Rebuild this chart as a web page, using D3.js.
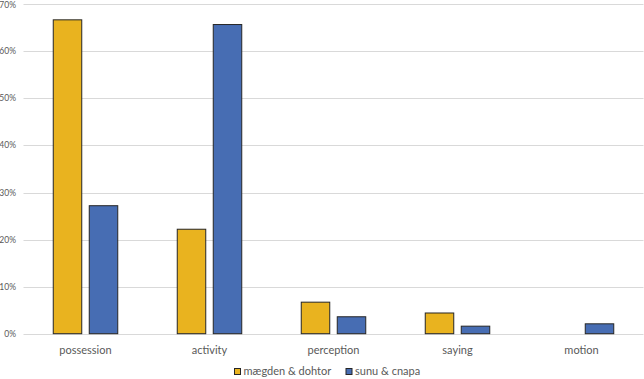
<!DOCTYPE html>
<html>
<head>
<meta charset="utf-8">
<script src="https://cdn.jsdelivr.net/npm/d3@7"></script>
<style>
  body { margin: 0; background: #fff; }
  svg { display: block; font-family: Lato, "Open Sans", sans-serif; }
</style>
</head>
<body>
<svg id="drawing_region"></svg>
<script>
const categories = ["possession", "activity", "perception", "saying", "motion"];
const seriesNames = ["mægden & dohtor", "sunu & cnapa"];
const maegden = [66.7, 22.2, 6.7, 4.4, 0];
const sunu = [27.2, 65.7, 3.6, 1.6, 2.1];
const yTicks = [0, 10, 20, 30, 40, 50, 60, 70];

const colors = ["#E9B31F", "#476DB3"];

const width = 644, height = 379;
const plot = { left: 23.5, right: 643.5, top: 4.3, bottom: 333.7 };

const svg = d3.select("#drawing_region")
    .attr("width", width)
    .attr("height", height);

const xscale = d3.scaleBand()
    .domain(categories)
    .range([plot.left, plot.right]);

const yscale = d3.scaleLinear()
    .domain([0, 70])
    .range([plot.bottom, plot.top]);

// gridlines
svg.append("g")
    .selectAll("line")
    .data(yTicks)
    .join("line")
    .attr("x1", plot.left)
    .attr("x2", plot.right)
    .attr("y1", d => Math.round(yscale(d)) + 0.5)
    .attr("y2", d => Math.round(yscale(d)) + 0.5)
    .attr("stroke", "#d9d9d9")
    .attr("stroke-width", 1);

// y labels
svg.append("g")
    .selectAll("text")
    .data(yTicks)
    .join("text")
    .attr("x", 16)
    .attr("y", d => Math.max(yscale(d) + 3, 8))
    .attr("text-anchor", "end")
    .attr("font-size", "8.5px")
    .attr("fill", "#595959")
    .text(d => d + "%");

// bars
const barW = 28.5, gap = 7.5;
const series = [maegden, sunu];

series.forEach((vals, si) => {
    svg.append("g")
        .selectAll("rect")
        .data(categories.map((c, i) => ({ c, v: vals[i] })).filter(d => d.v > 0))
        .join("rect")
        .attr("x", d => xscale(d.c) + xscale.bandwidth() / 2 + (si === 0 ? -barW - gap / 2 : gap / 2))
        .attr("y", d => yscale(d.v))
        .attr("width", barW)
        .attr("height", d => yscale(0) - yscale(d.v))
        .attr("fill", colors[si])
        .attr("stroke", "#262626")
        .attr("stroke-width", 1);
});

// x labels
svg.append("g")
    .selectAll("text")
    .data(categories)
    .join("text")
    .attr("x", d => xscale(d) + xscale.bandwidth() / 2)
    .attr("y", 354)
    .attr("text-anchor", "middle")
    .attr("font-size", "11px")
    .attr("fill", "#595959")
    .text(d => d);

// legend
const legend = svg.append("g");
const legendX = [234.5, 346];
seriesNames.forEach((name, i) => {
    legend.append("rect")
        .attr("x", legendX[i])
        .attr("y", 368.5)
        .attr("width", 6)
        .attr("height", 6)
        .attr("fill", colors[i])
        .attr("stroke", "#262626")
        .attr("stroke-width", 1);
    legend.append("text")
        .attr("x", legendX[i] + 9)
        .attr("y", 375)
        .attr("font-size", "11px")
        .attr("fill", "#595959")
        .text(name);
});
</script>
</body>
</html>
